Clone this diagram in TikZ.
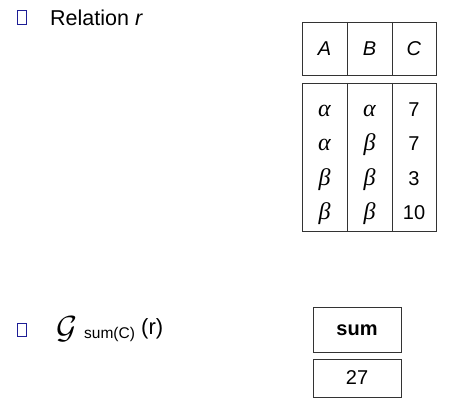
\documentclass[tikz,border=0pt]{standalone}
\usepackage{fontspec}
\setmainfont{Liberation Sans}
\newfontfamily\greekfont{Liberation Serif}
\begin{document}
\begin{tikzpicture}[x=1pt,y=-1pt,
  cell/.style={draw=black!80, line width=0.9pt},
  bul/.style={draw={rgb,255:red,30;green,30;blue,150}, line width=1pt},
  txt/.style={font=\fontsize{20}{24}\selectfont, inner sep=0pt},
  mtxt/.style={font=\fontsize{24}{26}\selectfont\greekfont\itshape, inner sep=0pt}]
\useasboundingbox (0,0) rectangle (449,417);
% bullets
\draw[bul] (17,11) rectangle (26,25);
\draw[bul] (17,323) rectangle (26,336);
\node[inner sep=0pt, font=\fontsize{21.5}{24}\selectfont, anchor=base west] (rel) at (50,26) {Relation \textit{r}};
% header
\draw[cell] (302,22) rectangle (436,75);
\draw[cell] (347,22) -- (347,75);
\draw[cell] (392,22) -- (392,75);
\node[txt] (hA) at (324.5,49) {\textit{A}};
\node[txt] (hB) at (369.5,49) {\textit{B}};
\node[txt] (hC) at (414,49) {\textit{C}};
% body
\draw[cell] (302,83) rectangle (436,231);
\draw[cell] (347,83) -- (347,231);
\draw[cell] (392,83) -- (392,231);
\node[mtxt, anchor=base] (a1) at (324.5,117) {α};
\node[mtxt, anchor=base] (b1) at (369.5,117) {α};
\node[txt, anchor=base] (c1) at (414,117) {7};
\node[mtxt, anchor=base] (a2) at (324.5,150) {α};
\node[mtxt, anchor=base] (b2) at (369.5,150) {β};
\node[txt, anchor=base] (c2) at (414,150) {7};
\node[mtxt, anchor=base] (a3) at (324.5,185) {β};
\node[mtxt, anchor=base] (b3) at (369.5,185) {β};
\node[txt, anchor=base] (c3) at (414,185) {3};
\node[mtxt, anchor=base] (a4) at (324.5,219) {β};
\node[mtxt, anchor=base] (b4) at (369.5,219) {β};
\node[txt, anchor=base] (c4) at (414,219) {10};
% aggregate expression
\node[inner sep=0pt, anchor=base west] (G) at (56,338) {\scalebox{3.2}{$\mathcal{G}$}};
\node[inner sep=0pt, anchor=base west, font=\fontsize{15.5}{17}\selectfont] (sub) at (84,338) {sum(C)};
\node[inner sep=0pt, font=\fontsize{22}{24}\selectfont, anchor=base west] (r) at (141,334) {(r)};
% result
\draw[cell] (313,307) rectangle (401,352);
\node[txt, font=\fontsize{20}{24}\selectfont\bfseries] (sum) at (357,330) {sum};
\draw[cell] (313,359) rectangle (401,397);
\node[txt] (v) at (357,378) {27};
\end{tikzpicture}
\end{document}
